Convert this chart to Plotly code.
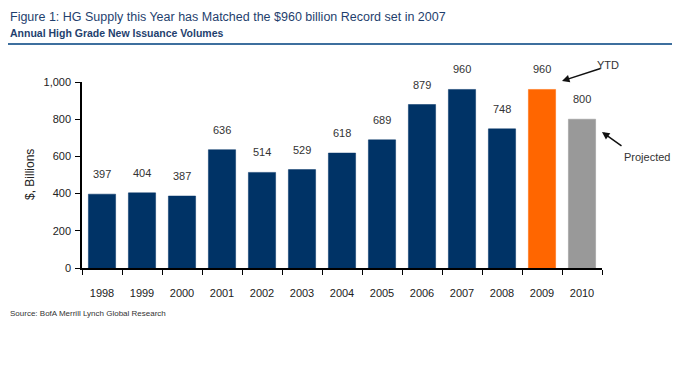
import plotly.graph_objects as go

years = ["1998", "1999", "2000", "2001", "2002", "2003", "2004", "2005", "2006", "2007", "2008", "2009", "2010"]
volumes = [397, 404, 387, 636, 514, 529, 618, 689, 879, 960, 748, 960, 800]
bar_colors = ["#003366"] * 11 + ["#FF6600", "#999999"]
value_labels = [str(v) for v in volumes]
y_ticks = [0, 200, 400, 600, 800, 1000]
y_tick_text = ["0", "200", "400", "600", "800", "1,000"]

# page body adds an 8px offset; positions below are in window pixels
OFF = 8
W, H = 680, 365
L, R, T, B = 82 - OFF, 680 - 602 + OFF, 82 - OFF, 365 - 268 + OFF
PW, PH = W - L - R, H - T - B


def px(x):
    return (x - OFF - L) / PW


def py(y):
    return (H - B - (y - OFF)) / PH


fig = go.Figure()
fig.add_trace(go.Bar(
    x=years, y=volumes,
    marker=dict(color=bar_colors, line=dict(color=bar_colors, width=0.5)),
    hoverinfo="x+y",
))

annotations = []
for i, (v, lab) in enumerate(zip(volumes, value_labels)):
    annotations.append(dict(
        x=i, y=v, text=lab, showarrow=False, yshift=20,
        font=dict(family="Liberation Sans, Arial", size=11, color="#333333"),
        xref="x", yref="y",
    ))

annotations += [
    dict(x=px(8), y=py(16.5), xref="paper", yref="paper", xanchor="left", yanchor="middle",
         text="Figure 1: HG Supply this Year has Matched the $960 billion Record set in 2007",
         showarrow=False, font=dict(family="Liberation Sans, Arial", size=12.5, color="#1F3F6E")),
    dict(x=px(8), y=py(33), xref="paper", yref="paper", xanchor="left", yanchor="middle",
         text="<b>Annual High Grade New Issuance Volumes</b>",
         showarrow=False, font=dict(family="Liberation Sans, Arial", size=10.5, color="#1F3F6E")),
    dict(x=px(8), y=py(313), xref="paper", yref="paper", xanchor="left", yanchor="middle",
         text="Source: BofA Merrill Lynch Global Research",
         showarrow=False, font=dict(family="Liberation Sans, Arial", size=8, color="#333333")),
    dict(x=px(30), y=py(175), xref="paper", yref="paper", xanchor="center", yanchor="middle",
         text="$, Billions", textangle=-90,
         showarrow=False, font=dict(family="Liberation Sans, Arial", size=12, color="#222222")),
    dict(x=px(608), y=py(65), xref="paper", yref="paper", xanchor="center", yanchor="middle",
         text="YTD", showarrow=False, font=dict(family="Liberation Sans, Arial", size=11, color="#333333")),
    dict(x=px(647), y=py(157), xref="paper", yref="paper", xanchor="center", yanchor="middle",
         text="Projected", showarrow=False, font=dict(family="Liberation Sans, Arial", size=11, color="#333333")),
    dict(x=px(562), y=py(81), xref="paper", yref="paper", text="", showarrow=True,
         ax=40, ay=-13, arrowhead=2, arrowsize=1, arrowwidth=1.5, arrowcolor="#111111"),
    dict(x=px(602), y=py(132), xref="paper", yref="paper", text="", showarrow=True,
         ax=21, ay=15, arrowhead=2, arrowsize=1, arrowwidth=1.5, arrowcolor="#111111"),
]

fig.update_layout(
    width=W, height=H,
    margin=dict(l=L, r=R, t=T, b=B, autoexpand=False),
    paper_bgcolor="white", plot_bgcolor="white",
    showlegend=False,
    bargap=0.32,
    annotations=annotations,
    shapes=[dict(type="line", xref="paper", yref="paper", x0=px(0), x1=px(690),
                 y0=py(44), y1=py(44), line=dict(color="#3D6F9E", width=2))],
    font=dict(family="Liberation Sans, Arial", size=11, color="#222222"),
)
fig.update_xaxes(
    type="category",
    showline=True, linecolor="#000000", linewidth=1.5,
    ticks="outside", tickson="boundaries", ticklen=5, tickcolor="#000000",
    ticklabelstandoff=14, showgrid=False, tickangle=0,
    tickfont=dict(family="Liberation Sans, Arial", size=11, color="#222222"),
)
fig.update_yaxes(
    range=[0, 1000], tickvals=y_ticks, ticktext=y_tick_text,
    showline=True, linecolor="#000000", linewidth=1.5,
    ticks="outside", ticklen=5, tickcolor="#000000", showgrid=False, zeroline=False,
    ticklabelstandoff=2,
    tickfont=dict(family="Liberation Sans, Arial", size=11, color="#222222"),
)

fig.write_html("out.html")
